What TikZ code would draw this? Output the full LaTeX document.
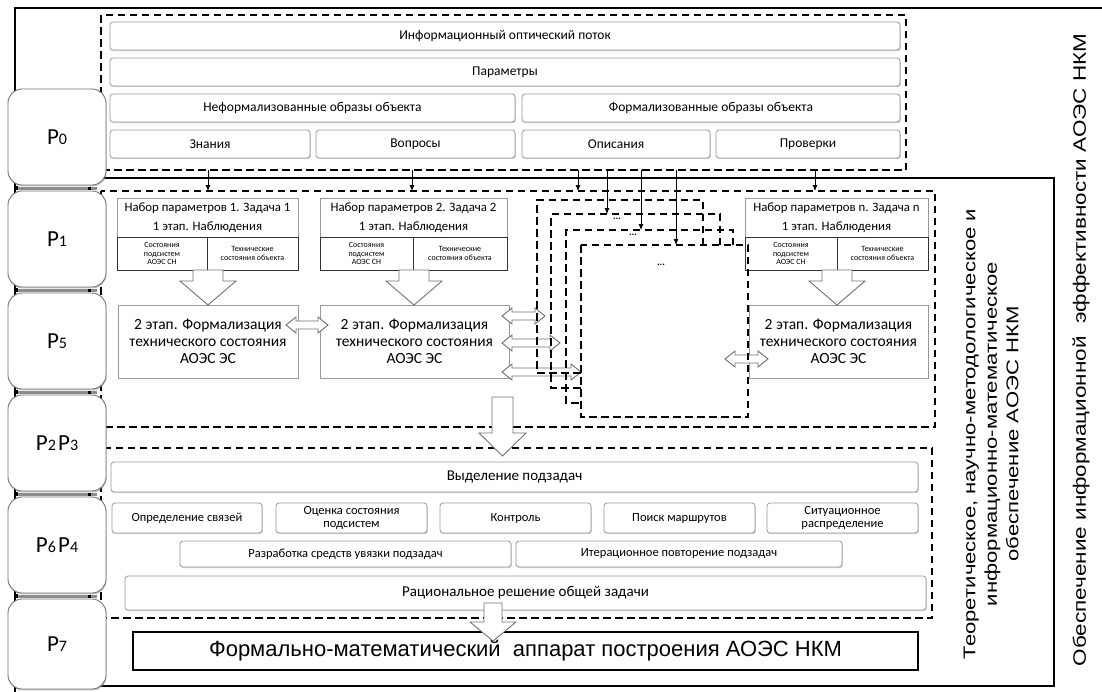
\documentclass[tikz,border=0pt]{standalone}
\usepackage{fontspec}
\usepackage{graphicx}
\setmainfont{Carlito}
\newfontfamily\arialf{Liberation Sans}
\usetikzlibrary{shadows,arrows.meta}
\newcommand{\boxat}[7]{\node[#1, minimum width=#5-#3, minimum height=#6-#4] (#2) at ({(#3+#5)/2},{(#4+#6)/2}) {#7};}
\newcommand{\hdown}[6]{\draw[harrow] (#1-#5,#2) -- (#1+#5,#2) -- (#1+#5,#3) -- (#1+#6,#3) -- (#1,#4) -- (#1-#6,#3) -- (#1-#5,#3) -- cycle;}
\newcommand{\hdbl}[3]{\draw[harrow] (#1,#3) -- (#1+10,#3-8) -- (#1+10,#3-4) -- (#2-10,#3-4) -- (#2-10,#3-8) -- (#2,#3) -- (#2-10,#3+8) -- (#2-10,#3+4) -- (#1+10,#3+4) -- (#1+10,#3+8) -- cycle;}
\newcommand{\plab}[2]{{\fontsize{23}{23}\selectfont #1}{\fontsize{16}{16}\selectfont #2}}
\tikzset{
 pbox/.style={draw=black!55, line width=0.9pt, fill=white, rounded corners=14pt, drop shadow={shadow xshift=0.6pt, shadow yshift=-1.4pt, opacity=0.45}},
 sbox/.style={draw=black!40, line width=0.8pt, fill=white, rounded corners=3pt, inner sep=1pt, align=center, drop shadow={shadow xshift=0.8pt, shadow yshift=-1.2pt, opacity=0.35}},
 rbox/.style={draw=black!40, line width=0.8pt, fill=white, inner sep=1pt, align=center, drop shadow={shadow xshift=0.8pt, shadow yshift=-1.2pt, opacity=0.35}},
 cell/.style={draw=black!80, line width=0.7pt, fill=white, inner sep=0.5pt, align=center, font=\fontsize{8}{8.6}\selectfont},
 dsh/.style={draw=black, line width=1.3pt, dash pattern=on 7.5pt off 4.5pt},
 frame/.style={draw=black, line width=2pt},
 harrow/.style={draw=black!55, line width=0.9pt, fill=white, line join=miter},
 tarrow/.style={draw=black, line width=0.8pt, -{Latex[length=6pt,width=5pt]}},
 ftop/.style={font=\fontsize{13.5}{15}\selectfont},
 fhead/.style={font=\fontsize{12.8}{15}\selectfont},
 fstage/.style={font=\fontsize{15.5}{17}\selectfont},
 frow/.style={font=\fontsize{12.5}{13}\selectfont},
 fbig/.style={font=\fontsize{15}{17}\selectfont},
 fdots/.style={font=\bfseries\fontsize{10}{10}\selectfont},
}
\begin{document}
\begin{tikzpicture}[x=1pt,y=-1pt]
\useasboundingbox (0,0) rectangle (1102,691);
\fill[white] (0,0) rectangle (1102,691);
\begin{scope}
\clip (0,0) rectangle (1102,691);
% frames
\draw[frame] (15,720) -- (15,8) -- (1120,8);
\draw[frame] (15,178) rectangle (1054,686);
% dashed regions
\draw[dsh] (101,15) rectangle (906,170);
\draw[dsh] (101,191) rectangle (935,427);
\draw[dsh] (101,448) rectangle (932,618);
% P0 region
\boxat{sbox,ftop}{info}{110}{22}{900}{50}{Информационный оптический поток}
\boxat{sbox,ftop}{par}{110}{58}{900}{86}{Параметры}
\boxat{sbox,ftop}{nef}{110}{94}{515}{122}{Неформализованные образы объекта}
\boxat{sbox,ftop}{fof}{522}{94}{900}{122}{Формализованные образы объекта}
\boxat{sbox,ftop}{zn}{110}{130}{310}{158}{Знания}
\boxat{sbox,ftop}{vo}{316}{130}{515}{158}{Вопросы}
\boxat{sbox,ftop}{op}{522}{130}{710}{158}{Описания}
\boxat{sbox,ftop}{pr}{716}{130}{900}{158}{Проверки}
% P1 tasks
\boxat{rbox}{ta}{117}{198}{298}{270}{}
\node[fhead] (ta1) at (207.5,208) {Набор параметров 1. Задача 1};
\node[fhead] (ta2) at (207.5,227) {1 этап. Наблюдения};
\boxat{cell}{tac1}{117}{237}{207}{270}{Состояния\\подсистем\\АОЭС СН}
\boxat{cell}{tac2}{207}{237}{298}{270}{Технические\\состояния объекта}
\boxat{rbox}{tb}{320}{198}{507}{270}{}
\node[fhead] (tb1) at (413.5,208) {Набор параметров 2. Задача 2};
\node[fhead] (tb2) at (413.5,227) {1 этап. Наблюдения};
\boxat{cell}{tbc1}{320}{237}{413}{270}{Состояния\\подсистем\\АОЭС СН}
\boxat{cell}{tbc2}{413}{237}{507}{270}{Технические\\состояния объекта}
\boxat{rbox}{tn}{745}{198}{928}{270}{}
\node[fhead] (tn1) at (836.5,208) {Набор параметров n. Задача n};
\node[fhead] (tn2) at (836.5,227) {1 этап. Наблюдения};
\boxat{cell}{tnc1}{745}{237}{837}{270}{Состояния\\подсистем\\АОЭС СН}
\boxat{cell}{tnc2}{837}{237}{928}{270}{Технические\\состояния объекта}
% stage 2
\boxat{rbox,fstage}{sa}{118}{305}{298}{378}{2 этап. Формализация\\технического состояния\\АОЭС ЭС}
\boxat{rbox,fstage}{sb}{320}{305}{509}{378}{2 этап. Формализация\\технического состояния\\АОЭС ЭС}
\boxat{rbox,fstage}{sn}{749}{305}{928}{378}{2 этап. Формализация\\технического состояния\\АОЭС ЭС}
% hollow down arrows
\hdown{208}{270}{281}{305}{15}{28}
\hdown{414}{270}{281}{305}{15}{28}
\hdown{837}{270}{281}{305}{15}{28}
% double arrows
\hdbl{286}{328}{325}
\hdbl{502}{545}{316}
\hdbl{502}{560}{343}
\hdbl{502}{581}{372}
\hdbl{725}{768}{359}
% nested cards
\draw[dsh] (703,245) -- (703,200) -- (537,200) -- (537,373) -- (581,373);
\draw[dsh] (720,245) -- (720,214) -- (551,214) -- (551,388) -- (581,388);
\draw[dsh] (733,245) -- (733,230) -- (566,230) -- (566,403) -- (581,403);
\draw[dsh] (581,245) rectangle (748,417);
\node[fdots] (d1) at (617,219) {...};
\node[fdots] (d2) at (633,235) {...};
\node[fdots] (d3) at (661,265) {...};
% thin arrows
\foreach \n/\x/\y in {a/208/191, b/412/191, c/578/191, d/607/214, e/641/230, f/676/245, g/815/191}{
  \coordinate (s\n) at (\x,170);
  \coordinate (e\n) at (\x,\y);
  \draw[tarrow] (s\n) -- (e\n);
}
% big arrow
\hdown{502.5}{397}{433}{456}{10.5}{23.5}
% P2 region
\boxat{sbox,fbig}{vyd}{111}{462}{918}{492}{Выделение подзадач}
\boxat{sbox,frow}{r1}{112}{503}{262}{533}{Определение связей}
\boxat{sbox,frow}{r2}{276}{503}{427}{533}{Оценка состояния\\подсистем}
\boxat{sbox,frow}{r3}{440}{503}{591}{533}{Контроль}
\boxat{sbox,frow}{r4}{604}{503}{755}{533}{Поиск маршрутов}
\boxat{sbox,frow}{r5}{767}{503}{918}{533}{Ситуационное\\распределение}
\boxat{sbox,frow}{q1}{180}{541}{511}{567}{Разработка средств увязки подзадач}
\boxat{sbox,frow}{q2}{516}{541}{842}{567}{Итерационное повторение подзадач}
\boxat{sbox,fbig}{rac}{125}{576}{926}{610}{Рациональное решение общей задачи}
% bottom box
\boxat{draw=black, line width=1.5pt, fill=white, font=\arialf\fontsize{22}{24}\selectfont}{fm}{133}{632}{918}{670}{Формально-математический\ \ аппарат построения АОЭС НКМ}
\hdown{493}{603}{622}{641}{9}{23}
% right texts
\node[rotate=90, align=center, font=\arialf\fontsize{17}{21.5}\selectfont] (t1) at (991,434) {\scalebox{1.3}[1]{Теоретическое, научно-методологическое и}\\\scalebox{1.3}[1]{информационно-математическое}\\\scalebox{1.3}[1]{обеспечение АОЭС НКМ}};
\node[rotate=90, font=\arialf\fontsize{18}{20}\selectfont] (t2) at (1081,350) {\scalebox{1.25}[1]{Обеспечение информационной\ \ эффективности АОЭС НКМ}};
% P boxes
\foreach \k/\t/\b in {0/89/185, 1/191/287, 2/293/389, 3/395/491, 4/497/593}{
  \fill[black!45] (17,\b+1.5) rectangle (97,\b+4.5);
  \fill[black] (15,\b+1) rectangle (18,\b+5);
  \fill[black] (88,\b+1.5) rectangle (91,\b+4.5);
}
\boxat{pbox}{p0}{8}{89}{106}{185}{\plab{P}{0}}
\boxat{pbox}{p1}{8}{191}{106}{287}{\plab{P}{1}}
\boxat{pbox}{p5}{8}{293}{106}{389}{\plab{P}{5}}
\boxat{pbox}{p23}{8}{395}{106}{491}{\plab{P}{2} \plab{P}{3}}
\boxat{pbox}{p64}{8}{497}{106}{593}{\plab{P}{6} \plab{P}{4}}
\boxat{pbox}{p7}{8}{599}{106}{689}{\plab{P}{7}}
\end{scope}
\end{tikzpicture}
\end{document}
